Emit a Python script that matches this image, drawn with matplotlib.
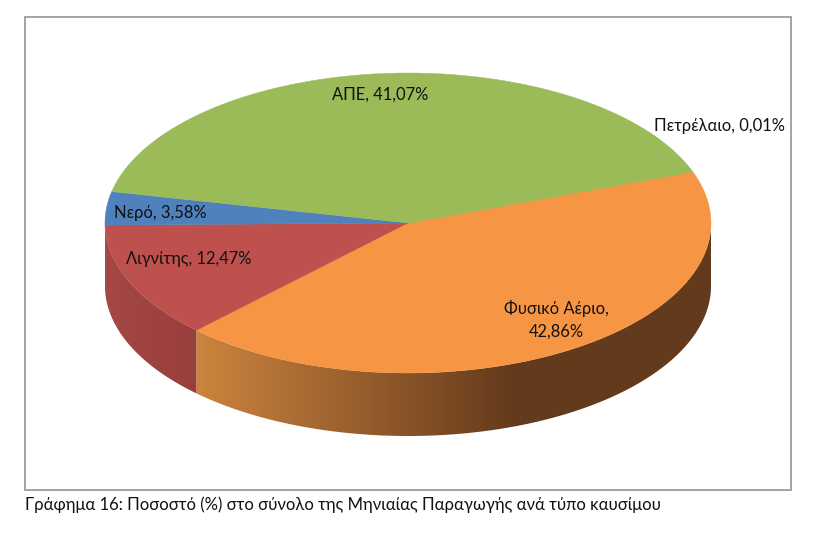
import numpy as np
import matplotlib
matplotlib.use("Agg")
import matplotlib.pyplot as plt
from matplotlib.colors import LinearSegmentedColormap
from matplotlib.patches import Polygon, Rectangle

# Slices in clockwise order, starting at the orange/green boundary
labels = ['Φυσικό Αέριο,\n42,86%', 'Λιγνίτης, 12,47%', 'Νερό, 3,58%', 'ΑΠΕ, 41,07%', 'Πετρέλαιο, 0,01%']
values = [42.86, 12.47, 3.58, 41.07, 0.01]
colors = ['#F69645', '#BE504D', '#4F81BD', '#9BBB59', '#9BBB5A']
label_x = [556, 189, 160, 380, 719]
label_y = [320, 259, 213, 95, 126]
caption = 'Γράφημα 16: Ποσοστό (%) στο σύνολο της Μηνιαίας Παραγωγής ανά τύπο καυσίμου'

# Pie geometry in pixels
cx, cy = 408, 223
rx, ry = 303, 150
depth = 63
start_angle = 20

plt.rcParams['font.family'] = ['Lato', 'Open Sans', 'DejaVu Sans']

fig = plt.figure(figsize=(8.16, 5.36), dpi=100)
ax = fig.add_axes([0, 0, 1, 1])
ax.set_xlim(0, 816)
ax.set_ylim(536, 0)
ax.axis('off')

ax.add_patch(Rectangle((25, 17), 766, 473, fill=False, edgecolor='#A3A3A3', linewidth=1.4))


def rim(a1, a2, n=200):
    t = np.radians(np.linspace(a1, a2, n))
    return cx + rx * np.cos(t), cy - ry * np.sin(t)


# Walls: gradient images clipped to the visible part of each slice's side
wall_cmaps = {
    '#F69645': LinearSegmentedColormap.from_list('o', [(0, '#CC843D'), (0.4, '#8A5429'), (0.62, '#633A1C'), (1, '#633A1C')]),
    '#BE504D': LinearSegmentedColormap.from_list('r', [(0, '#A54846'), (1, '#983E3C')]),
}
# Slice boundaries go clockwise, so angles decrease
edges = start_angle - np.cumsum([0] + values) / sum(values) * 360
for i, c in enumerate(colors):
    a1, a2 = edges[i], edges[i + 1]
    # lower half of the ellipse means angles between -180 and 0
    lo, hi = max(a2, -180), min(a1, 0)
    if hi <= lo or c not in wall_cmaps:
        continue
    x, y = rim(lo, hi)
    pts = np.column_stack([np.r_[x, x[::-1]], np.r_[y, y[::-1] + depth]])
    x0, x1 = x.min(), x.max()
    grad = np.linspace(0, 1, 256).reshape(1, -1)
    im = ax.imshow(grad, cmap=wall_cmaps[c], extent=[x0, x1, 450, 200], aspect='auto', zorder=2)
    im.set_clip_path(Polygon(pts, transform=ax.transData))

# Top face
for i, c in enumerate(colors):
    x, y = rim(edges[i], edges[i + 1])
    ax.fill(np.r_[cx, x], np.r_[cy, y], color=c, linewidth=0.3, zorder=3)

# imshow resets the limits
ax.set_xlim(0, 816)
ax.set_ylim(536, 0)

for lab, lx, ly in zip(labels, label_x, label_y):
    ax.text(lx, ly, lab, ha='center', va='center', fontsize=11.9, color='#111111', zorder=4, linespacing=1.45)
ax.text(25, 505, caption, ha='left', va='center', fontsize=12, color='#111111')

fig.savefig('out.png', dpi=100)
